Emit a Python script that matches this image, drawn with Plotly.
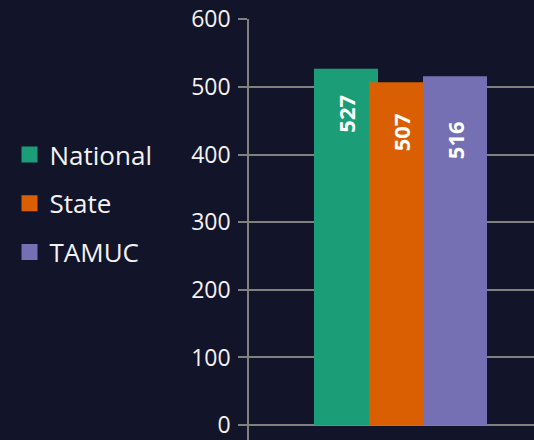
import plotly.graph_objects as go

categories = [""]
series_names = ["National", "State", "TAMUC"]
national = [527]
state = [507]
tamuc = [516]
series_values = [national, state, tamuc]

colors = ["#1b9e77", "#d95f02", "#7570b3"]
offsets = [-0.272, -0.079, 0.1105]
bar_width = 0.2246
label_shift = [-45, -50, -64]

BG = "#12142a"
GRID = "#808080"
TXT = "#f2f2f2"
FONT = "'Open Sans', Lato, sans-serif"

fig = go.Figure()
for name, vals, col, off in zip(series_names, series_values, colors, offsets):
    fig.add_trace(go.Bar(
        x=categories, y=vals, name=name, marker=dict(color=col, line=dict(width=0)),
        offset=off, width=bar_width, showlegend=False,
    ))
for i, (name, col) in enumerate(zip(series_names, colors)):
    fig.add_trace(go.Scatter(
        x=[None], y=[None], mode="markers", name=name, legendgroup=name,
        marker=dict(symbol="square", size=18, color=col),
    ))

for vals, off, sh in zip(series_values, offsets, label_shift):
    for ci, v in enumerate(vals):
        fig.add_annotation(
            x=ci + off + bar_width / 2, y=v, xref="x", yref="y",
            text=f"<b>{v}</b>", showarrow=False, textangle=-90,
            yanchor="middle", xanchor="center", yshift=sh,
            font=dict(family=FONT, size=22, color="#ffffff"),
        )

fig.update_layout(
    width=534, height=440,
    paper_bgcolor=BG, plot_bgcolor=BG,
    margin=dict(l=249, r=0, t=19, b=0),
    barmode="overlay",
    font=dict(family=FONT, color=TXT),
    legend=dict(
        xref="container", yref="container", x=0.0178, y=0.5375,
        xanchor="left", yanchor="middle",
        font=dict(family=FONT, size=26, color=TXT),
        tracegroupgap=12, traceorder="grouped", itemwidth=30,
        bgcolor="rgba(0,0,0,0)",
    ),
    xaxis=dict(range=[-0.5, 0.5], showticklabels=False, showgrid=False,
               zeroline=False, showline=False, ticks=""),
    yaxis=dict(range=[-22, 600.5], tick0=0, dtick=100, showgrid=True,
               gridcolor=GRID, gridwidth=1.5, zeroline=True, zerolinecolor=GRID,
               zerolinewidth=1.5, showline=True, linecolor=GRID, linewidth=1.5,
               ticks="outside", ticklen=9, tickcolor=GRID, tickwidth=1.5,
               ticklabelstandoff=3, ticklabeloverflow="allow",
               tickfont=dict(family=FONT, size=23, color=TXT)),
)

fig.write_html(
    "out.html",
    config={"displayModeBar": False},
    post_script="document.body.style.margin='0';document.body.style.background='%s';" % BG,
)
